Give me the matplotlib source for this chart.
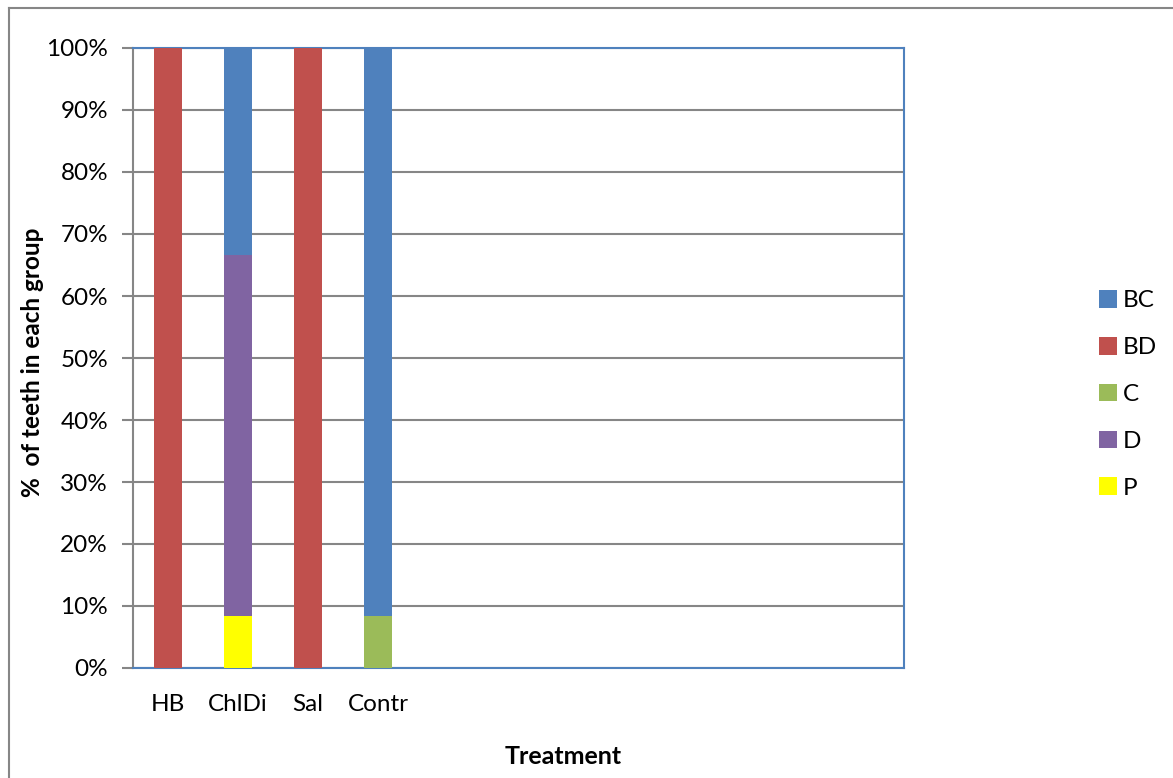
import numpy as np
import matplotlib.pyplot as plt
from matplotlib.lines import Line2D
from matplotlib.ticker import PercentFormatter

categories = ["HB", "ChlDi", "Sal", "Contr"]
n_slots = 11  # the category axis keeps room for 11 groups

# stacked shares (%), bottom to top: P, C, D, BD, BC
P = [0, 8.33, 0, 0]
C = [0, 0, 0, 8.33]
D = [0, 58.34, 0, 0]
BD = [100, 0, 100, 0]
BC = [0, 33.33, 0, 91.67]

series = [("P", P, "#FFFF00"), ("C", C, "#9BBB59"), ("D", D, "#8064A2"),
          ("BD", BD, "#C0504D"), ("BC", BC, "#4F81BD")]

plt.rcParams["font.family"] = ["Lato", "DejaVu Sans"]

fig = plt.figure(figsize=(11.73, 7.78), dpi=100)
ax = fig.add_axes([133/1173, 1 - 668/778, (904-133)/1173, (668-48)/778])

x = np.arange(len(categories))
bottom = np.zeros(len(categories))
handles = {}
for name, vals, col in series:
    b = ax.bar(x, vals, width=0.4, bottom=bottom, color=col, zorder=3)
    handles[name] = b
    bottom += np.array(vals)

ax.set_xlim(-0.5, n_slots - 0.5)
ax.set_ylim(0, 100)
ax.set_yticks(np.arange(0, 101, 10))
ax.yaxis.set_major_formatter(PercentFormatter(decimals=0))
ax.grid(axis="y", color="#868686", lw=1.5, zorder=0)
ax.set_xticks(x)
ax.set_xticklabels(categories)

ax.tick_params(axis="x", length=0, pad=19, labelsize=17.5)
ax.tick_params(axis="y", length=8, width=1.5, color="#868686", pad=10, labelsize=17.5)

for s in ["top", "right", "bottom"]:
    ax.spines[s].set_color("#4F81BD")
    ax.spines[s].set_linewidth(1.5)
ax.spines["left"].set_color("#868686")
ax.spines["left"].set_linewidth(1.5)

fig.text(33/1173, 1 - 362/778, "%  of teeth in each group", rotation=90,
         ha="center", va="center", fontsize=17.5, fontweight="bold")
fig.text(563/1173, 1 - 757/778, "Treatment", ha="center", va="center",
         fontsize=18, fontweight="bold")

order = ["BC", "BD", "C", "D", "P"]
leg = fig.legend([handles[k] for k in order], order, loc="upper left",
                 bbox_to_anchor=(1077/1173, 1 - 268/778), frameon=False,
                 fontsize=17.5, handlelength=0.75, handleheight=0.75,
                 handletextpad=0.25, labelspacing=1.05)

# outer chart border
fig.add_artist(Line2D([9/1173, 9/1173], [0, 1 - 8/778], color="#868686", lw=1.5))
fig.add_artist(Line2D([9/1173, 1], [1 - 8/778, 1 - 8/778], color="#868686", lw=1.5))

fig.savefig("out.png", dpi=100)
